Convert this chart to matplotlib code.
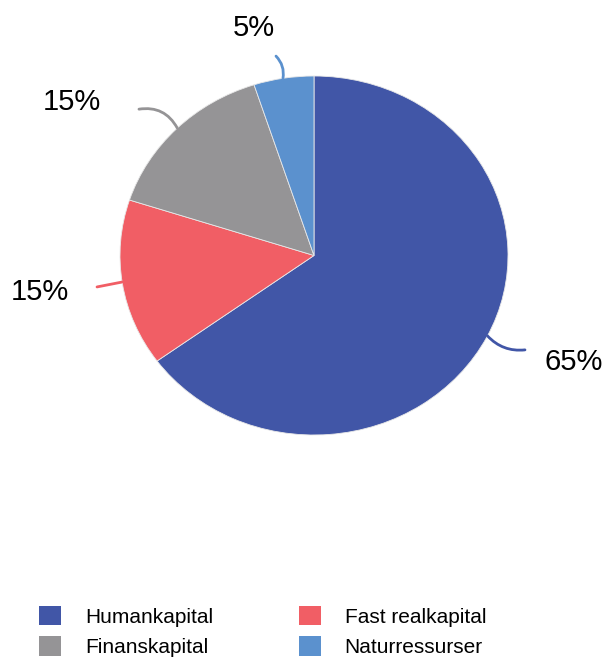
import numpy as np
import matplotlib.pyplot as plt
from matplotlib.patches import Patch

plt.rcParams['font.family'] = ['Liberation Sans', 'DejaVu Sans']

# slice shares (clockwise from 12 o'clock)
categories = ['Humankapital', 'Fast realkapital', 'Finanskapital', 'Naturressurser']
shares = [65, 15, 15, 5]
pct_labels = ['65%', '15%', '15%', '5%']
colors = ['#4156A7', '#F15E65', '#959496', '#5B91CE']

W, H = 606, 659
fig = plt.figure(figsize=(W / 100, H / 100), dpi=100)
ax = fig.add_axes([0, 0, 1, 1])

ax.pie(shares, colors=colors, startangle=90, counterclock=False,
       wedgeprops=dict(linewidth=0.6, edgecolor='#e8e8e8'))

# leader line start / end and label position, as (angle deg, radius factor)
line_start = [(-26.6, 1.0), (188.5, 1.0), (134.8, 1.0), (99.2, 1.0)]
line_end = [(-25.8, 1.208), (188.9, 1.132), (137.9, 1.216), (100.0, 1.128)]
label_pos = [(-23.9, 1.466), (188.2, 1.427), (145.6, 1.512), (103.7, 1.304)]
curvature = [0.25, 0.0, 0.35, 0.25]


def polar(a, f):
    t = np.deg2rad(a)
    return f * np.cos(t), f * np.sin(t)


for i in range(len(shares)):
    ax.annotate('', xy=polar(*line_end[i]), xytext=polar(*line_start[i]),
                arrowprops=dict(arrowstyle='-', color=colors[i], lw=2,
                                shrinkA=0, shrinkB=0,
                                connectionstyle=f'arc3,rad={curvature[i]}'))
    lx, ly = polar(*label_pos[i])
    ax.text(lx, ly, pct_labels[i], fontsize=21, ha='center', va='center', color='black')

# the pie is drawn slightly squashed: 194 px wide radius, 179.5 px tall radius
cx, cy, rx, ry = 314, 255.5, 194, 179.5
ax.set_aspect('auto')
ax.set_xlim(-cx / rx, (W - cx) / rx)
ax.set_ylim(-(H - cy) / ry, cy / ry)
ax.axis('off')

order = [0, 2, 1, 3]
handles = [Patch(facecolor=colors[i], label=categories[i]) for i in order]
fig.legend(handles=handles, ncol=2, loc='upper left',
           bbox_to_anchor=(39 / W, 1 - 606 / H), frameon=False,
           fontsize=15, handlelength=1.06, handleheight=1.06,
           handletextpad=1.15, columnspacing=4.1, labelspacing=0.45,
           borderpad=0, borderaxespad=0)

fig.savefig('out.png', dpi=100)
